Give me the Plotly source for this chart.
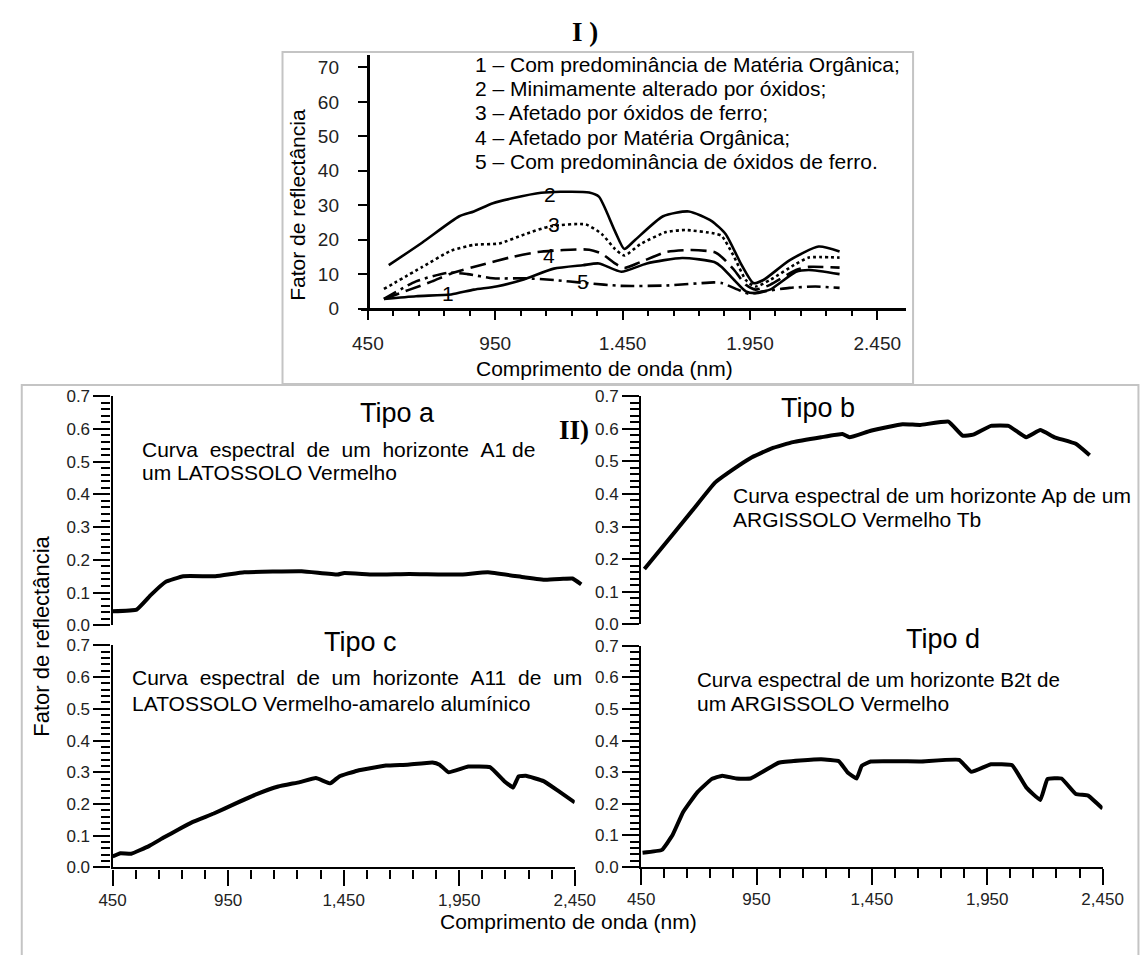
import plotly.graph_objects as go

W, H = 1142, 955

# ---------------- Panel I data (wavelength nm, reflectance %) ----------------
c1_nm = [513, 639, 777, 866, 954, 1055, 1180, 1294, 1357, 1445, 1545, 1684, 1810, 1839, 1888, 1934, 1972, 2029, 2131, 2181, 2302]
c1_val = [2.8, 3.6, 4.1, 5.5, 6.4, 8.3, 11.6, 12.6, 13.1, 10.7, 13.1, 14.7, 13.5, 12.1, 8.3, 5.0, 4.5, 5.5, 10.7, 11.2, 10.0]

c2_nm = [532, 664, 809, 866, 941, 1017, 1130, 1206, 1319, 1357, 1420, 1457, 1496, 1609, 1710, 1800, 1855, 1915, 1964, 2003, 2105, 2220, 2302]
c2_val = [12.6, 19.2, 26.8, 28.2, 30.6, 32.0, 33.6, 33.9, 33.7, 32.5, 22.5, 17.3, 19.7, 26.8, 28.2, 25.4, 21.6, 13.0, 7.4, 8.3, 14.0, 18.0, 16.6]

c3_nm = [513, 664, 777, 866, 966, 1067, 1167, 1306, 1369, 1420, 1457, 1520, 1621, 1697, 1810, 1839, 1888, 1934, 1972, 2029, 2131, 2181, 2302]
c3_val = [5.7, 12.1, 16.8, 18.5, 18.9, 21.6, 23.9, 24.4, 21.6, 17.3, 15.4, 18.7, 22.2, 22.8, 21.8, 21.1, 15.0, 8.3, 6.4, 8.3, 13.0, 14.8, 14.8]

c4_nm = [513, 614, 702, 777, 891, 1017, 1117, 1218, 1319, 1369, 1420, 1457, 1520, 1621, 1722, 1810, 1839, 1888, 1934, 1972, 2029, 2131, 2181, 2302]
c4_val = [2.8, 5.5, 7.9, 10.2, 12.6, 15.0, 16.4, 17.0, 17.1, 15.9, 13.1, 11.8, 13.5, 16.4, 17.0, 16.4, 15.0, 11.2, 6.9, 5.5, 6.9, 11.2, 12.1, 11.9]

c5_nm = [513, 639, 765, 841, 941, 1067, 1180, 1306, 1445, 1621, 1810, 1839, 1903, 1945, 2003, 2105, 2207, 2302]
c5_val = [2.8, 7.9, 10.4, 10.0, 8.8, 8.8, 8.3, 7.4, 6.6, 6.7, 7.6, 7.4, 5.5, 4.3, 5.0, 6.0, 6.4, 6.0]

curve_label_text = ["1", "2", "3", "4", "5"]
curve_label_nm = [766, 1165, 1181, 1162, 1295]
curve_label_val = [4.3, 33.0, 24.4, 15.3, 7.8]

legend_lines = [
    "1 – Com predominância de Matéria Orgânica;",
    "2 – Minimamente alterado por óxidos;",
    "3 – Afetado por óxidos de ferro;",
    "4 – Afetado por Matéria Orgânica;",
    "5 – Com predominância de óxidos de ferro.",
]

I_xticks = [450, 950, 1450, 1950, 2450]
I_xticklabels = ["450", "950", "1.450", "1.950", "2.450"]
I_xminor = [550, 650, 750, 850, 1050, 1150, 1250, 1350, 1550, 1650, 1750, 1850, 2050, 2150, 2250, 2350]
I_yticks = [0, 10, 20, 30, 40, 50, 60, 70]

# ---------------- Panel II data (wavelength nm, reflectance factor) ----------------
a_nm = [450, 554, 616, 678, 756, 895, 1020, 1268, 1423, 1453, 1578, 1734, 1950, 2074, 2230, 2323, 2400, 2440, 2478]
a_val = [0.043, 0.048, 0.093, 0.132, 0.150, 0.150, 0.162, 0.165, 0.155, 0.160, 0.155, 0.157, 0.155, 0.162, 0.147, 0.139, 0.142, 0.143, 0.125]

b_nm = [464, 586, 678, 770, 847, 923, 1016, 1108, 1230, 1322, 1353, 1445, 1583, 1659, 1782, 1843, 1889, 1966, 2042, 2119, 2180, 2242, 2334, 2394]
b_val = [0.170, 0.275, 0.355, 0.435, 0.475, 0.510, 0.540, 0.559, 0.574, 0.584, 0.574, 0.594, 0.614, 0.612, 0.622, 0.579, 0.582, 0.609, 0.609, 0.574, 0.596, 0.574, 0.554, 0.519]

c_nm = [450, 484, 531, 609, 671, 733, 795, 888, 981, 1074, 1167, 1260, 1330, 1392, 1431, 1509, 1633, 1726, 1834, 1865, 1904, 1989, 2083, 2145, 2183, 2207, 2238, 2315, 2377, 2450]
c_val = [0.035, 0.045, 0.043, 0.068, 0.094, 0.119, 0.143, 0.170, 0.201, 0.231, 0.255, 0.269, 0.282, 0.265, 0.287, 0.305, 0.321, 0.324, 0.331, 0.324, 0.300, 0.318, 0.316, 0.272, 0.252, 0.287, 0.289, 0.272, 0.242, 0.205]

d_nm = [456, 540, 586, 632, 694, 755, 801, 862, 924, 1046, 1230, 1307, 1345, 1384, 1406, 1445, 1659, 1828, 1881, 1966, 2058, 2119, 2180, 2211, 2272, 2334, 2387, 2450]
d_val = [0.045, 0.054, 0.101, 0.174, 0.237, 0.278, 0.289, 0.280, 0.280, 0.330, 0.341, 0.335, 0.299, 0.280, 0.320, 0.334, 0.334, 0.339, 0.301, 0.325, 0.322, 0.252, 0.212, 0.278, 0.280, 0.231, 0.226, 0.185]

II_xticks = [450, 950, 1450, 1950, 2450]
II_xticklabels = ["450", "950", "1,450", "1,950", "2,450"]
II_xminor = [550, 650, 750, 850, 1050, 1150, 1250, 1350, 1550, 1650, 1750, 1850, 2050, 2150, 2250, 2350]
II_yticks = [0.0, 0.1, 0.2, 0.3, 0.4, 0.5, 0.6, 0.7]
II_yticklabels = ["0.0", "0.1", "0.2", "0.3", "0.4", "0.5", "0.6", "0.7"]
II_yminor = [round(0.02 * i, 2) for i in range(1, 35) if i % 5 != 0]

tipo_titles = ["Tipo a", "Tipo b", "Tipo c", "Tipo d"]


def px(x):
    return x / W


def py(y):
    return 1 - y / H


NB = "\u00a0"
SANS = "Liberation Sans, Arial, sans-serif"
SERIF = "Liberation Serif, Times New Roman, serif"

fig = go.Figure()

# Panel I curves
dash_styles = {
    "1": "solid", "2": "solid", "3": "dot", "4": "16px,7px", "5": "14px,5px,3px,5px"
}
for name, xs, ys in [("2", c2_nm, c2_val), ("3", c3_nm, c3_val), ("4", c4_nm, c4_val),
                     ("1", c1_nm, c1_val), ("5", c5_nm, c5_val)]:
    fig.add_trace(go.Scatter(x=xs, y=ys, mode="lines", xaxis="x", yaxis="y",
                             line=dict(color="black", width=2.6, dash=dash_styles[name],
                                       shape="spline", smoothing=0.6),
                             hoverinfo="skip"))

# Panel II curves
for xs, ys, xa, ya in [(a_nm, a_val, "x2", "y2"), (b_nm, b_val, "x3", "y3"),
                       (c_nm, c_val, "x4", "y4"), (d_nm, d_val, "x5", "y5")]:
    fig.add_trace(go.Scatter(x=xs, y=ys, mode="lines", xaxis=xa, yaxis=ya,
                             line=dict(color="black", width=4, shape="spline", smoothing=0.3),
                             hoverinfo="skip"))

# empty trace that activates the label-only companion axes of panel I
fig.add_trace(go.Scatter(x=[None], y=[None], mode="lines", xaxis="x6", yaxis="y6",
                         hoverinfo="skip"))

base = dict(showgrid=False, zeroline=False, showline=True, linecolor="black",
            ticks="outside", tickcolor="black")

I_xdom = [px(357.7), px(920)]
I_xrange = [422, 2562]
I_ydom = [py(306), py(47)]
I_yrange = [0, 73.6]
tickfontI = dict(size=19, color="#222", family=SANS)

xI = dict(base, domain=I_xdom, range=I_xrange, anchor="free", position=py(306),
          tickmode="array", tickvals=I_xticks, showticklabels=False, ticklen=10, tickwidth=2,
          linewidth=2.5,
          minor=dict(tickvals=I_xminor, ticklen=6, tickwidth=1.6, ticks="outside", tickcolor="black"))
yI = dict(base, domain=I_ydom, range=I_yrange, anchor="free", position=px(365),
          tickmode="array", tickvals=I_yticks, showticklabels=False, ticklen=9, tickwidth=2,
          linewidth=2.5)
xIlab = dict(showgrid=False, zeroline=False, showline=False, overlaying="x", range=I_xrange,
             anchor="free", position=py(306), tickmode="array", tickvals=I_xticks,
             ticktext=I_xticklabels, ticks="outside", ticklen=18, tickcolor="rgba(0,0,0,0)",
             tickfont=tickfontI)
yIlab = dict(showgrid=False, zeroline=False, showline=False, overlaying="y", range=I_yrange,
             anchor="free", position=px(365), tickmode="array", tickvals=I_yticks,
             ticks="outside", ticklen=25, tickcolor="rgba(0,0,0,0)", tickfont=tickfontI)


def ax_y(dom_top, dom_bot, anchor):
    return dict(base, domain=[py(dom_bot), py(dom_top)], range=[0, 0.7], anchor=anchor,
                tickmode="array", tickvals=II_yticks, ticktext=II_yticklabels,
                ticklen=17, tickwidth=2, linewidth=2.2,
                tickfont=dict(size=17, color="#222", family=SANS),
                minor=dict(tickvals=II_yminor, ticklen=9, tickwidth=1.5, ticks="outside",
                           tickcolor="black"))


def ax_x(left, right, rng, anchor, visible):
    d = dict(base, domain=[px(left), px(right)], range=rng, anchor=anchor)
    if visible:
        d.update(tickmode="array", tickvals=II_xticks, ticktext=II_xticklabels,
                 ticklen=16, tickwidth=2, linewidth=2.2,
                 tickfont=dict(size=17, color="#222", family=SANS),
                 minor=dict(tickvals=II_xminor, ticklen=9, tickwidth=1.5, ticks="outside",
                            tickcolor="black"))
    else:
        d.update(visible=False)
    return d


pxnm = 0.2384
fig.update_layout(
    width=W, height=H, margin=dict(l=0, r=0, t=0, b=0),
    paper_bgcolor="white", plot_bgcolor="rgba(0,0,0,0)", showlegend=False,
    font=dict(family=SANS, color="black"),
    xaxis=xI, yaxis=yI,
    xaxis2=ax_x(101.7, 101.7 + 2050 * pxnm, [450, 2500], "y2", False),
    yaxis2=ax_y(395.5, 629.5, "x2"),
    xaxis3=ax_x(647, 1123, [450, 2450], "y3", False),
    yaxis3=ax_y(395.5, 628.5, "x3"),
    xaxis4=ax_x(101.7, 578.5, [450, 2450], "y4", True),
    yaxis4=ax_y(650, 876.8, "x4"),
    xaxis5=ax_x(647, 1123, [450, 2450], "y5", True),
    yaxis5=ax_y(650.5, 876.3, "x5"),
    xaxis6=xIlab, yaxis6=yIlab,
)

# Frames
fig.add_shape(type="rect", xref="paper", yref="paper", x0=px(277), x1=px(927.5),
              y0=py(383), y1=py(44), line=dict(color="#c4c4c4", width=2), layer="below")
fig.add_shape(type="rect", xref="paper", yref="paper", x0=px(8), x1=px(1160),
              y0=py(990), y1=py(384), line=dict(color="#c4c4c4", width=2), layer="below")

ann = []


def txt(x, y, s, size=21, anchor="center", family=SANS, angle=0):
    ann.append(dict(x=px(x), y=py(y), xref="paper", yref="paper", text=s, showarrow=False,
                    xanchor=anchor, yanchor="middle", textangle=angle,
                    font=dict(size=size, family=family, color="black")))


# Panel I texts
txt(589, 23, "<b>I )</b>", 27, family=SERIF)
for i, line in enumerate(legend_lines):
    txt(474, 57 + 24.6 * i, line, 21, "left")
txt(608.7, 367, "Comprimento de onda (nm)", 21)
txt(293, 200, "Fator de reflectância", 21, angle=-90)
for t, xv, yv in zip(curve_label_text, curve_label_nm, curve_label_val):
    ann.append(dict(x=xv, y=yv, xref="x", yref="y", text=t, showarrow=False,
                    xanchor="center", yanchor="middle", font=dict(size=21, family=SANS, color="black")))

# Panel II texts
txt(578, 430, "<b>II)</b>", 27, family=SERIF)
txt(396, 413, tipo_titles[0], 27)
txt(829, 408, tipo_titles[1], 27)
txt(357, 647, tipo_titles[2], 27)
txt(958, 643, tipo_titles[3], 27)

txt(129.5, 450, ("Curva" + NB * 2 + "espectral" + NB * 2 + "de" + NB * 2 + "um" + NB * 2
                 + "horizonte" + NB * 2 + "A1" + NB + "de"), 21, "left")
txt(129.5, 473, "um LATOSSOLO Vermelho", 21, "left")

txt(740, 497, "Curva espectral de um horizonte Ap de um", 21, "left")
txt(740, 521, "ARGISSOLO Vermelho Tb", 21, "left")

txt(120, 683, ("Curva" + NB * 2 + "espectral" + NB * 2 + "de" + NB * 2 + "um" + NB * 2
               + "horizonte" + NB * 2 + "A11" + NB * 2 + "de" + NB * 2 + "um"), 21, "left")
txt(120, 709, "LATOSSOLO Vermelho-amarelo alumínico", 21, "left")

txt(703, 685, "Curva espectral de um horizonte B2t de", 20.6, "left")
txt(703, 709, "um ARGISSOLO Vermelho", 21, "left")

txt(572, 932, "Comprimento de onda (nm)", 21)
txt(28, 641, "Fator de reflectância", 22, angle=-90)

fig.update_layout(annotations=ann)

fig.write_html("out.html")
